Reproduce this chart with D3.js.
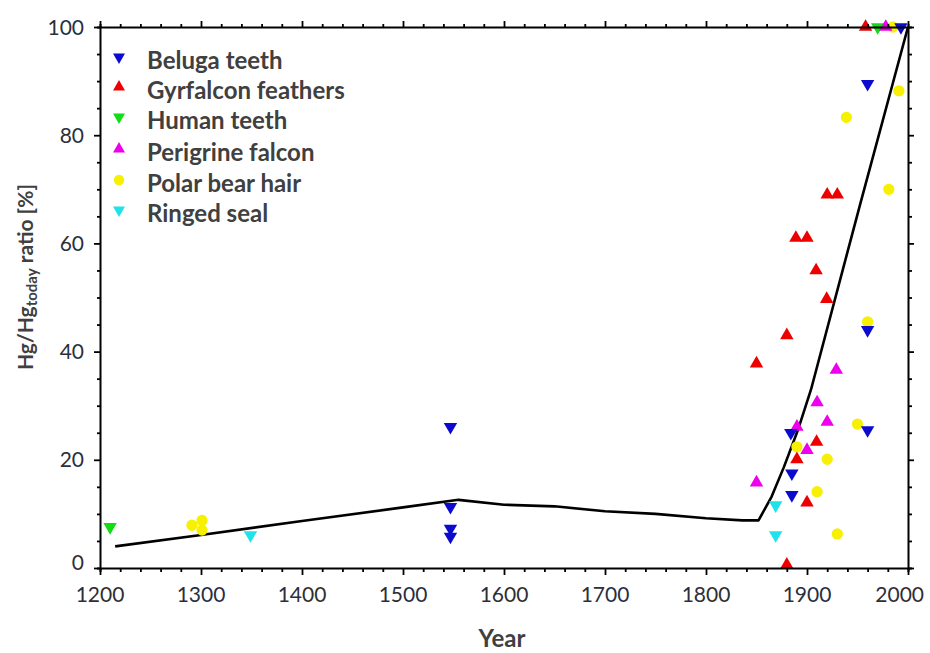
<!DOCTYPE html>
<html>
<head>
<meta charset="utf-8">
<script src="https://cdn.jsdelivr.net/npm/d3@7"></script>
<style>
  html, body { margin: 0; padding: 0; background: #fff; }
  svg { display: block; }
</style>
</head>
<body>
<svg id="chart" width="930" height="653"></svg>
<script>
// ---- data ----
const xTicks = [1200, 1300, 1400, 1500, 1600, 1700, 1800, 1900, 2000];
const yTicks = [0, 20, 40, 60, 80, 100];

const seriesNames = ["Beluga teeth", "Gyrfalcon feathers", "Human teeth", "Perigrine falcon", "Polar bear hair", "Ringed seal"];

const belugaTeeth = [[1547,26.1],[1547,11.3],[1547,7.3],[1547,5.8],[1884,25],[1885,17.5],[1885,13.5],[1960,25.5],[1960,44],[1960,89.5],[1993,100]];
const gyrfalconFeathers = [[1850,37.8],[1880,43],[1889,61],[1900,61],[1909,55],[1919.5,49.7],[1920,69],[1930,69],[1958,100],[1909.5,23.3],[1890,20.1],[1900,12.1],[1880,0.6]];
const humanTeeth = [[1210,7.6],[1970,100]];
const perigrineFalcon = [[1850,15.8],[1890,26.1],[1900,21.8],[1910,30.6],[1920,27],[1929,36.6],[1978,100]];
const polarBearHair = [[1291,7.9],[1301,8.8],[1301,7.0],[1890,22.4],[1910,14.1],[1920,20.1],[1930,6.3],[1939,83.3],[1950,26.6],[1960,45.5],[1981,70],[1985,100],[1991,88.2]];
const ringedSeal = [[1349,6.1],[1869,11.6],[1869,6.1]];

const trendLine = [[1215,4],[1300,6.1],[1400,8.7],[1500,11.2],[1555,12.6],[1600,11.7],[1650,11.4],[1700,10.5],[1750,10.0],[1800,9.2],[1836,8.8],[1852,8.8],[1865,13.2],[1877,18.6],[1891,25.5],[1904,33],[1953,67.5],[2000,100]];

// ---- styles ----
const styles = {
  "Beluga teeth":       { color: "#0b0bcf", shape: "down" },
  "Gyrfalcon feathers": { color: "#ee0000", shape: "up" },
  "Human teeth":        { color: "#12dd12", shape: "down" },
  "Perigrine falcon":   { color: "#ee00ee", shape: "up" },
  "Polar bear hair":    { color: "#f7f000", shape: "circle" },
  "Ringed seal":        { color: "#1fe3ea", shape: "down" }
};
const seriesData = {
  "Beluga teeth": belugaTeeth,
  "Gyrfalcon feathers": gyrfalconFeathers,
  "Human teeth": humanTeeth,
  "Perigrine falcon": perigrineFalcon,
  "Polar bear hair": polarBearHair,
  "Ringed seal": ringedSeal
};

const svg = d3.select("#chart");
const L = 100, R = 908, T = 27, B = 568;
const x = d3.scaleLinear().domain([1200, 2000]).range([L, R]);
const y = d3.scaleLinear().domain([0, 100]).range([B, T]);

const tickFont = "Lato, 'Open Sans', sans-serif";
const textColor = "#2c2f3a";

// trend line
svg.append("path")
  .datum(trendLine)
  .attr("fill", "none")
  .attr("stroke", "#000")
  .attr("stroke-width", 2.6)
  .attr("stroke-linejoin", "round")
  .attr("d", d3.line().x(d => x(d[0])).y(d => y(d[1])));

function symbolPath(shape, size) {
  if (shape === "circle") return d3.symbol().type(d3.symbolCircle).size(size.c)();
  return d3.symbol().type(d3.symbolTriangle).size(size.t)();
}
const markerSize = { t: 78, c: 100 };

// markers: draw polar bear first so others sit on top
const drawOrder = ["Polar bear hair", "Ringed seal", "Human teeth", "Gyrfalcon feathers", "Perigrine falcon", "Beluga teeth"];
drawOrder.forEach(name => {
  const st = styles[name];
  svg.append("g").selectAll("path")
    .data(seriesData[name])
    .join("path")
    .attr("d", symbolPath(st.shape, markerSize))
    .attr("fill", st.color)
    .attr("transform", d => `translate(${x(d[0])},${y(d[1])})` + (st.shape === "down" ? " rotate(180)" : ""));
});

// axes (box with outward ticks)
const xMinor = d3.range(1200, 2001, 20);
const yMinor = d3.range(0, 101, 5);

const axG = svg.append("g");
const axBottom = axG.append("g").attr("transform", `translate(0,${B})`)
  .call(d3.axisBottom(x).tickValues(xMinor).tickSize(4).tickFormat(""));
axBottom.selectAll(".tick").filter(d => xTicks.includes(d)).select("line").attr("y2", 7);

const axTop = axG.append("g").attr("transform", `translate(0,${T})`)
  .call(d3.axisTop(x).tickValues(xMinor).tickSize(3).tickFormat(""));
axTop.selectAll(".tick").filter(d => xTicks.includes(d)).select("line").attr("y2", -6);

const axLeft = axG.append("g").attr("transform", `translate(${L},0)`)
  .call(d3.axisLeft(y).tickValues(yMinor).tickSize(3).tickFormat(""));
axLeft.selectAll(".tick").filter(d => yTicks.includes(d)).select("line").attr("x2", -6);

const axRight = axG.append("g").attr("transform", `translate(${R},0)`)
  .call(d3.axisRight(y).tickValues(yMinor).tickSize(4).tickFormat(""));
axRight.selectAll(".tick").filter(d => yTicks.includes(d)).select("line").attr("x2", 6);

axG.selectAll(".domain").attr("stroke", "#000").attr("stroke-width", 2);
axG.selectAll(".tick line").attr("stroke", "#000").attr("stroke-width", 1.8);

// tick labels (last one pulled in to stay inside the frame, as in the reference)
svg.append("g").selectAll("text")
  .data(xTicks).join("text")
  .attr("x", d => d === 2000 ? 924 : x(d)).attr("y", 602)
  .attr("text-anchor", d => d === 2000 ? "end" : "middle")
  .attr("font-family", tickFont).attr("font-size", 21)
  .attr("fill", textColor)
  .text(d => d);

svg.append("g").selectAll("text")
  .data(yTicks).join("text")
  .attr("x", 84).attr("y", d => y(d) + (d === 0 ? -6 : 0))
  .attr("dy", "0.36em")
  .attr("text-anchor", "end")
  .attr("font-family", tickFont).attr("font-size", 21)
  .attr("fill", textColor)
  .text(d => d);

// axis titles
svg.append("text")
  .attr("x", 502).attr("y", 647)
  .attr("text-anchor", "middle")
  .attr("font-family", tickFont).attr("font-size", 24).attr("font-weight", "bold")
  .attr("fill", "#404040")
  .text("Year");

const yt = svg.append("text")
  .attr("transform", "translate(33,277) rotate(-90)")
  .attr("text-anchor", "middle")
  .attr("font-family", tickFont).attr("font-size", 21).attr("font-weight", "bold")
  .attr("fill", "#404040");
yt.append("tspan").text("Hg/Hg");
yt.append("tspan").attr("font-size", 15).attr("dy", 4).text("today");
yt.append("tspan").attr("dy", -4).text(" ratio [%]");

// legend
const legendRowsY = [60, 90, 120, 152, 183, 213];
const leg = svg.append("g");
seriesNames.forEach((name, i) => {
  const st = styles[name];
  const cy = legendRowsY[i];
  leg.append("path")
    .attr("d", symbolPath(st.shape, { t: 62, c: 85 }))
    .attr("fill", st.color)
    .attr("transform", `translate(119,${cy - 3})` + (st.shape === "down" ? " rotate(180)" : ""));
  leg.append("text")
    .attr("x", 147).attr("y", cy)
    .attr("dy", "0.36em")
    .attr("font-family", tickFont).attr("font-size", 24).attr("font-weight", "bold")
    .attr("fill", "#404040")
    .text(name);
});
</script>
</body>
</html>
